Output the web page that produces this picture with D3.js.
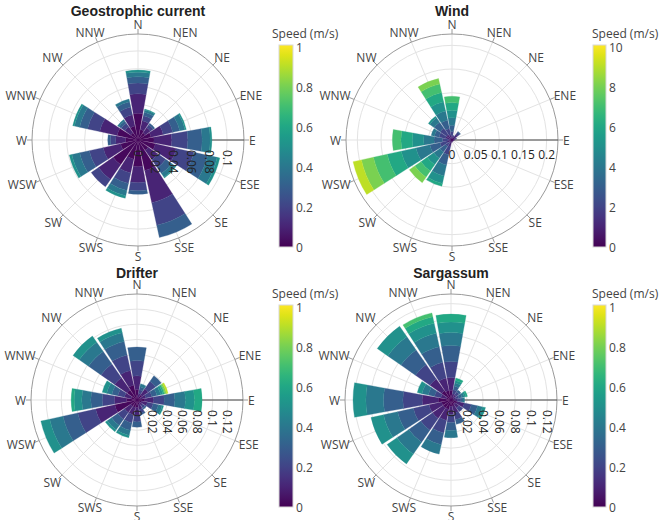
<!DOCTYPE html>
<html>
<head>
<meta charset="utf-8">
<script src="https://cdn.jsdelivr.net/npm/d3@7"></script>
<style>
  body { margin: 0; background: #fff; }
  svg text { font-family: "Open Sans", "Liberation Sans", Arial, sans-serif; }
</style>
</head>
<body>
<svg id="chart" width="663" height="520"></svg>
<script>
// ---------------- DATA ----------------
const directions = ["N","NEN","NE","ENE","E","ESE","SE","SSE","S","SWS","SW","WSW","W","WNW","NW","NNW"];

// speed-bin colour positions (fraction of colour scale) for the 10 bins
const binLevels = [0.02,0.1,0.2,0.3,0.4,0.5,0.6,0.7,0.8,0.9];

// Geostrophic current: frequency per speed bin (each array = one bin, across 16 directions)
const geoBin0 = [0.030,0.012,0.010,0.015,0.018,0.020,0.014,0.035,0.030,0.022,0.034,0.020,0.014,0.024,0.010,0.016];
const geoBin1 = [0.022,0.010,0.007,0.014,0.020,0.024,0.013,0.037,0.018,0.016,0.020,0.020,0.011,0.020,0.008,0.013];
const geoBin2 = [0.012,0.006,0.004,0.011,0.018,0.020,0.011,0.026,0.009,0.012,0.010,0.016,0.006,0.014,0.005,0.009];
const geoBin3 = [0.007,0.004,0.002,0.008,0.016,0.016,0.008,0.014,0.004,0.008,0.000,0.011,0.003,0.009,0.003,0.006];
const geoBin4 = [0.005,0.0025,0.000,0.006,0.009,0.011,0.005,0.000,0.000,0.006,0.000,0.009,0.000,0.006,0.002,0.003];
const geoBin5 = [0.0025,0.001,0.000,0.0015,0.002,0.003,0.001,0.000,0.000,0.003,0.000,0.003,0.000,0.002,0.000,0.000];

// Wind
const windBin0 = [0.002,0.004,0.006,0.004,0.003,0.002,0.002,0.002,0.003,0.004,0.002,0.003,0.002,0.004,0.004,0.003];
const windBin1 = [0.006,0.004,0.008,0.004,0.002,0.001,0.001,0.001,0.002,0.010,0.005,0.008,0.006,0.010,0.010,0.008];
const windBin2 = [0.010,0.002,0.006,0.002,0,0,0,0,0,0.018,0.010,0.015,0.012,0.014,0.016,0.014];
const windBin3 = [0.013,0,0.002,0,0,0,0,0,0,0.022,0.014,0.022,0.018,0.010,0.016,0.018];
const windBin4 = [0.016,0,0,0,0,0,0,0,0,0.024,0.016,0.030,0.022,0.007,0.011,0.020];
const windBin5 = [0.016,0,0,0,0,0,0,0,0,0.016,0.017,0.032,0.024,0,0.004,0.020];
const windBin6 = [0.016,0,0,0,0,0,0,0,0,0.006,0.016,0.030,0.024,0,0,0.020];
const windBin7 = [0.0135,0,0,0,0,0,0,0,0,0,0.016,0.030,0.018,0,0,0.018];
const windBin8 = [0,0,0,0,0,0,0,0,0,0,0.014,0.026,0,0,0,0.012];
const windBin9 = [0,0,0,0,0,0,0,0,0,0,0,0.018,0,0,0,0];

// Drifter
const drifterBin0 = [0.014,0.004,0.008,0.005,0.010,0.006,0.004,0.006,0.010,0.010,0.010,0.030,0.014,0.008,0.016,0.020];
const drifterBin1 = [0.018,0.005,0.010,0.007,0.012,0.008,0.005,0.007,0.010,0.010,0.010,0.026,0.016,0.009,0.020,0.020];
const drifterBin2 = [0.020,0.005,0.012,0.008,0.014,0.008,0.004,0.005,0.009,0.011,0.011,0.024,0.016,0.009,0.022,0.021];
const drifterBin3 = [0.018,0.004,0.009,0.007,0.014,0.007,0.002,0.002,0.007,0.010,0.010,0.020,0.015,0.008,0.020,0.018];
const drifterBin4 = [0,0.004,0,0.005,0.014,0.005,0,0,0,0.007,0.007,0.018,0.012,0.007,0.015,0.012];
const drifterBin5 = [0,0,0,0.003,0.012,0.002,0,0,0,0.003,0.003,0.012,0.010,0.006,0.010,0.006];
const drifterBin6 = [0,0,0,0.002,0.010,0,0,0,0,0,0,0,0.004,0,0,0];
const drifterBin7 = [0,0,0,0.001,0,0,0,0,0,0,0,0,0,0,0,0];
const drifterBin8 = [0,0,0,0.002,0,0,0,0,0,0,0,0,0,0,0,0];
const drifterBin9 = [0,0,0,0.002,0,0,0,0,0,0,0,0,0,0,0,0];

// Sargassum
const sargBin0 = [0.012,0.004,0.004,0.003,0.004,0.008,0.006,0.008,0.008,0.012,0.012,0.012,0.016,0.006,0.014,0.012];
const sargBin1 = [0.016,0.004,0.004,0.003,0.004,0.009,0.006,0.009,0.010,0.014,0.016,0.016,0.020,0.007,0.018,0.016];
const sargBin2 = [0.020,0.005,0.004,0.004,0.004,0.009,0.006,0.008,0.010,0.016,0.018,0.020,0.024,0.008,0.022,0.020];
const sargBin3 = [0.020,0.005,0.003,0.004,0.003,0.008,0,0.006,0.010,0.015,0.018,0.020,0.024,0.008,0.022,0.020];
const sargBin4 = [0.016,0.004,0,0.003,0.002,0.006,0,0,0.009,0.012,0.018,0.018,0.022,0.008,0.020,0.017];
const sargBin5 = [0.013,0.003,0,0.002,0,0.004,0,0,0,0,0.015,0.016,0.016,0.006,0.016,0.013];
const sargBin6 = [0.010,0.003,0,0.002,0,0,0,0,0,0,0,0,0,0,0,0.008];
const sargBin7 = [0,0,0,0,0,0,0,0,0,0,0,0,0,0,0,0.005];

// radial tick labels
const geoTicks = ["0","0.02","0.04","0.06","0.08","0.1"];
const windTicks = ["0","0.05","0.1","0.15","0.2"];
const drifterTicks = ["0","0.02","0.04","0.06","0.08","0.1","0.12"];
const sargTicks = ["0","0.02","0.04","0.06","0.08","0.1","0.12"];

// colourbar tick labels
const currentCbTicks = ["0","0.2","0.4","0.6","0.8","1"];
const windCbTicks = ["0","2","4","6","8","10"];

// ---------------- LAYOUT ----------------
const panels = [
  { title: "Geostrophic current", cx: 138, cy: 140, titleY: 16, rMax: 0.119,
    bins: [geoBin0,geoBin1,geoBin2,geoBin3,geoBin4,geoBin5], ticks: geoTicks, rotateTicks: true,
    cb: { x: 279, top: 45, bottom: 247, w: 14, max: 1, ticks: currentCbTicks, titleX: 272, titleY: 38 } },
  { title: "Wind", cx: 452, cy: 140, titleY: 16, rMax: 0.224,
    bins: [windBin0,windBin1,windBin2,windBin3,windBin4,windBin5,windBin6,windBin7,windBin8,windBin9], ticks: windTicks, rotateTicks: false,
    cb: { x: 593, top: 45, bottom: 247, w: 13, max: 10, ticks: windCbTicks, titleX: 592, titleY: 38 } },
  { title: "Drifter", cx: 137, cy: 400, titleY: 278, rMax: 0.14,
    bins: [drifterBin0,drifterBin1,drifterBin2,drifterBin3,drifterBin4,drifterBin5,drifterBin6,drifterBin7,drifterBin8,drifterBin9], ticks: drifterTicks, rotateTicks: true,
    cb: { x: 279, top: 305, bottom: 507, w: 14, max: 1, ticks: currentCbTicks, titleX: 272, titleY: 298 } },
  { title: "Sargassum", cx: 451, cy: 400, titleY: 278, rMax: 0.132,
    bins: [sargBin0,sargBin1,sargBin2,sargBin3,sargBin4,sargBin5,sargBin6,sargBin7], ticks: sargTicks, rotateTicks: true,
    cb: { x: 593, top: 305, bottom: 507, w: 13, max: 1, ticks: currentCbTicks, titleX: 592, titleY: 298 } }
];

const R = 106;
const svg = d3.select("#chart");
svg.append("rect").attr("width", 663).attr("height", 520).attr("fill", "#fff");

// gradient for colourbars
const defs = svg.append("defs");
const grad = defs.append("linearGradient").attr("id", "viridisGrad")
  .attr("x1", 0).attr("y1", 1).attr("x2", 0).attr("y2", 0);
d3.range(0, 1.0001, 0.05).forEach(t => {
  grad.append("stop").attr("offset", t).attr("stop-color", d3.interpolateViridis(t));
});

const angle = d3.scaleBand().domain(directions)
  .range([-Math.PI / 16, 2 * Math.PI - Math.PI / 16])
  .paddingInner(0.1).paddingOuter(0.05);
const centerAngle = d => angle(d) + angle.bandwidth() / 2;

panels.forEach(p => {
  const g = svg.append("g").attr("transform", `translate(${p.cx},${p.cy})`);
  const r = d3.scaleLinear().domain([0, p.rMax]).range([0, R]);

  // grid circles
  p.ticks.forEach(t => {
    const v = +t;
    if (v > 0) g.append("circle").attr("r", r(v)).attr("fill", "none").attr("stroke", "#e3e3e3").attr("stroke-width", 1);
  });
  // spokes
  directions.forEach(d => {
    const a = centerAngle(d);
    g.append("line").attr("x1", 0).attr("y1", 0)
      .attr("x2", R * Math.sin(a)).attr("y2", -R * Math.cos(a))
      .attr("stroke", "#e3e3e3").attr("stroke-width", 1);
  });
  // outer circle
  g.append("circle").attr("r", R).attr("fill", "none").attr("stroke", "#9a9a9a").attr("stroke-width", 1);
  // angular ticks outside
  directions.forEach(d => {
    const a = centerAngle(d);
    g.append("line")
      .attr("x1", R * Math.sin(a)).attr("y1", -R * Math.cos(a))
      .attr("x2", (R + 5) * Math.sin(a)).attr("y2", -(R + 5) * Math.cos(a))
      .attr("stroke", "#9a9a9a").attr("stroke-width", 1);
  });
  // radial axis line (east)
  g.append("line").attr("x1", 0).attr("y1", 0).attr("x2", R).attr("y2", 0)
    .attr("stroke", "#444").attr("stroke-width", 1);

  // stacked bars
  const keys = p.bins.map((_, i) => "b" + i);
  const table = directions.map((d, j) => {
    const row = { dir: d };
    p.bins.forEach((arr, i) => { row["b" + i] = arr[j]; });
    return row;
  });
  const series = d3.stack().keys(keys)(table);
  const arc = d3.arc()
    .innerRadius(d => r(d[0])).outerRadius(d => r(d[1]))
    .startAngle(d => angle(d.data.dir)).endAngle(d => angle(d.data.dir) + angle.bandwidth());
  series.forEach((s, i) => {
    const col = d3.interpolateViridis(binLevels[i]);
    g.append("g").selectAll("path")
      .data(s.filter(d => d[1] - d[0] > 0))
      .join("path")
      .attr("d", arc)
      .attr("fill", col)
      .attr("stroke", col).attr("stroke-width", 0.3);
  });

  // radial tick labels
  p.ticks.forEach(t => {
    const x = r(+t);
    if (p.rotateTicks) {
      g.append("text").text(t)
        .attr("x", x).attr("y", 10)
        .attr("transform", `rotate(90,${x},10)`)
        .attr("text-anchor", "start").attr("dominant-baseline", "central")
        .attr("font-size", 12).attr("fill", "#222");
    } else {
      g.append("text").text(t)
        .attr("x", x).attr("y", 19)
        .attr("text-anchor", "middle")
        .attr("font-size", 12).attr("fill", "#222");
    }
  });

  // angular labels
  directions.forEach(d => {
    const a = centerAngle(d);
    const t = g.append("text").text(d)
      .attr("font-size", 12).attr("fill", "#444")
      .attr("text-anchor", "middle").attr("dominant-baseline", "central");
    const bb = t.node().getBBox();
    const s = Math.sin(a), c = Math.cos(a);
    const pr = R + 5;
    t.attr("x", s * pr + s * bb.width / 2).attr("y", -c * pr - c * 5);
  });

  // title
  svg.append("text").text(p.title)
    .attr("x", p.cx).attr("y", p.titleY)
    .attr("text-anchor", "middle")
    .style("font-family", "'Liberation Sans', Arial, sans-serif")
    .attr("font-size", 14).attr("font-weight", "bold").attr("fill", "#222");

  // colourbar
  const cb = p.cb;
  svg.append("rect").attr("x", cb.x).attr("y", cb.top)
    .attr("width", cb.w).attr("height", cb.bottom - cb.top)
    .attr("fill", "url(#viridisGrad)").attr("stroke", "#d8d8d8").attr("stroke-width", 1);
  const cy = d3.scaleLinear().domain([0, cb.max]).range([cb.bottom, cb.top + 2]);
  cb.ticks.forEach(t => {
    svg.append("text").text(t)
      .attr("x", cb.x + cb.w + 3).attr("y", cy(+t))
      .attr("dominant-baseline", "central")
      .attr("font-size", 12).attr("fill", "#444");
  });
  svg.append("text").text("Speed (m/s)")
    .attr("x", cb.titleX).attr("y", cb.titleY)
    .attr("font-size", 12).attr("fill", "#444");
});
</script>
</body>
</html>
